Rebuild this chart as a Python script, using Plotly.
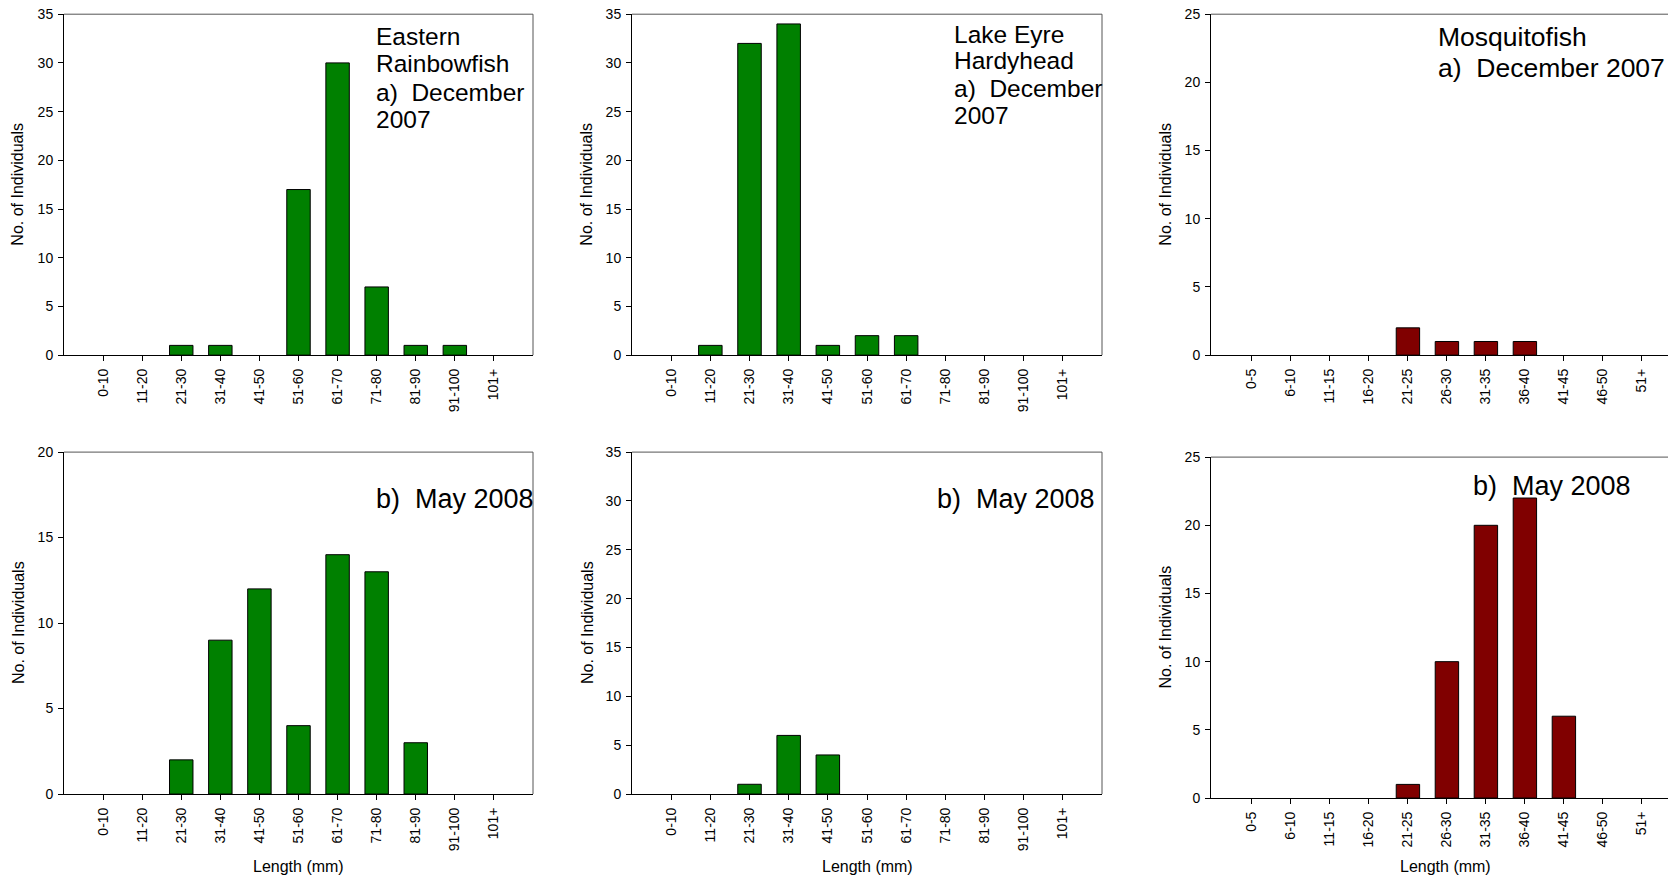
import plotly.graph_objects as go

W, H = 1668, 879

# Length classes
bins_10mm = ["0-10", "11-20", "21-30", "31-40", "41-50", "51-60",
             "61-70", "71-80", "81-90", "91-100", "101+"]
bins_5mm = ["0-5", "6-10", "11-15", "16-20", "21-25", "26-30",
            "31-35", "36-40", "41-45", "46-50", "51+"]

# Number of individuals per length class
rainbowfish_dec2007 = [0, 0, 1, 1, 0, 17, 30, 7, 1, 1, 0]
rainbowfish_may2008 = [0, 0, 2, 9, 12, 4, 14, 13, 3, 0, 0]
hardyhead_dec2007 = [0, 1, 32, 34, 1, 2, 2, 0, 0, 0, 0]
hardyhead_may2008 = [0, 0, 1, 6, 4, 0, 0, 0, 0, 0, 0]
mosquitofish_dec2007 = [0, 0, 0, 0, 2, 1, 1, 1, 0, 0, 0]
mosquitofish_may2008 = [0, 0, 0, 0, 1, 10, 20, 22, 6, 0, 0]

GREEN = "#008000"
MAROON = "#800000"
FONT = "Arial, 'Liberation Sans', Helvetica, sans-serif"

# vertical page offset / scale of the rendered page
Y_OFF, Y_SCALE = 7.8, 0.982


def px_x(v):
    return v / W


def px_y(v):
    return 1 - ((v - Y_OFF) / Y_SCALE) / H


# each panel: data, categories, colour, y max, frame box in pixels (l, t, r, b), x range
panels = [
    dict(vals=rainbowfish_dec2007, cats=bins_10mm, color=GREEN, ymax=35,
         box=(64, 14, 533, 355), xr=[-1, 11], right=True),
    dict(vals=hardyhead_dec2007, cats=bins_10mm, color=GREEN, ymax=35,
         box=(632, 14, 1102, 355), xr=[-1, 11], right=True),
    dict(vals=mosquitofish_dec2007, cats=bins_5mm, color=MAROON, ymax=25,
         box=(1211, 14, 1668, 355), xr=[-1.05, 10.67], right=False),
    dict(vals=rainbowfish_may2008, cats=bins_10mm, color=GREEN, ymax=20,
         box=(64, 452, 533, 794), xr=[-1, 11], right=True),
    dict(vals=hardyhead_may2008, cats=bins_10mm, color=GREEN, ymax=35,
         box=(632, 452, 1102, 794), xr=[-1, 11], right=True),
    dict(vals=mosquitofish_may2008, cats=bins_5mm, color=MAROON, ymax=25,
         box=(1211, 457, 1668, 798), xr=[-1.05, 10.67], right=False),
]

fig = go.Figure()
layout = {}
shapes = []
annotations = []

for i, p in enumerate(panels, start=1):
    sx = "" if i == 1 else str(i)
    l, t, r, b = p["box"]
    # empty classes get no bar outline
    heights = [v if v else None for v in p["vals"]]
    fig.add_trace(go.Bar(
        x=p["cats"], y=heights, width=0.6,
        marker=dict(color=p["color"], line=dict(color="black", width=1)),
        xaxis="x" + sx, yaxis="y" + sx, showlegend=False,
    ))
    layout["xaxis" + sx] = dict(
        domain=[px_x(l), min(1.0, px_x(r))], anchor="y" + sx,
        type="category", range=p["xr"],
        showline=True, linecolor="black", linewidth=1,
        ticks="outside", ticklen=5, tickcolor="black", tickwidth=1,
        tickangle=-90, tickfont=dict(family=FONT, size=14, color="black"),
        ticklabelstandoff=2,
        showgrid=False, zeroline=False, fixedrange=True,
    )
    layout["yaxis" + sx] = dict(
        domain=[px_y(b), px_y(t)], anchor="x" + sx,
        range=[0, p["ymax"]], tick0=0, dtick=5,
        showline=True, linecolor="black", linewidth=1,
        ticks="outside", ticklen=5, tickcolor="black", tickwidth=1,
        tickfont=dict(family=FONT, size=14, color="black"),
        ticklabelstandoff=2,
        showgrid=False, zeroline=False, fixedrange=True,
    )
    # upper and right edges of the frame
    shapes.append(dict(type="line", xref="x" + sx + " domain", yref="y" + sx + " domain",
                       x0=0, x1=1, y0=1, y1=1, line=dict(color="#555555", width=1)))
    if p["right"]:
        shapes.append(dict(type="line", xref="x" + sx + " domain", yref="y" + sx + " domain",
                           x0=1, x1=1, y0=0, y1=1, line=dict(color="#555555", width=1)))
    # y-axis title
    ycx = {1: 18, 2: 587, 3: 1166, 4: 18, 5: 587, 6: 1166}[i]
    annotations.append(dict(
        text="No. of Individuals", textangle=-90, showarrow=False,
        xref="paper", yref="paper", x=px_x(ycx), y=px_y((t + b) / 2),
        xanchor="center", yanchor="middle",
        font=dict(family=FONT, size=16, color="black"),
    ))

# x-axis titles on the lower row
for cx in (298, 867, 1445):
    annotations.append(dict(
        text="Length (mm)", showarrow=False, xref="paper", yref="paper",
        x=px_x(cx), y=px_y(866), xanchor="center", yanchor="middle",
        font=dict(family=FONT, size=16, color="black"),
    ))


def panel_label(lines, left, centers, size):
    for txt, cy in zip(lines, centers):
        annotations.append(dict(
            text=txt, showarrow=False, xref="paper", yref="paper",
            x=px_x(left), y=px_y(cy), xanchor="left", yanchor="middle",
            font=dict(family=FONT, size=size, color="black"),
        ))


panel_label(["Eastern", "Rainbowfish", "a)  December", "2007"], 374,
            [36.2, 63.8, 92.5, 119], 24.5)
panel_label(["Lake Eyre", "Hardyhead", "a)  December", "2007"], 952,
            [34, 60.6, 88.3, 115], 24.5)
panel_label(["Mosquitofish", "a)  December 2007"], 1436, [37.2, 68], 26.5)
panel_label(["b)  May 2008"], 374, [499], 27)
panel_label(["b)  May 2008"], 935, [499], 27)
panel_label(["b)  May 2008"], 1471, [486], 27)

fig.update_layout(
    width=W, height=H,
    margin=dict(l=0, r=0, t=0, b=0),
    paper_bgcolor="white", plot_bgcolor="white",
    font=dict(family=FONT, color="black"),
    bargap=0.4, showlegend=False,
    shapes=shapes, annotations=annotations,
    **layout,
)

fig.write_html("out.html")
